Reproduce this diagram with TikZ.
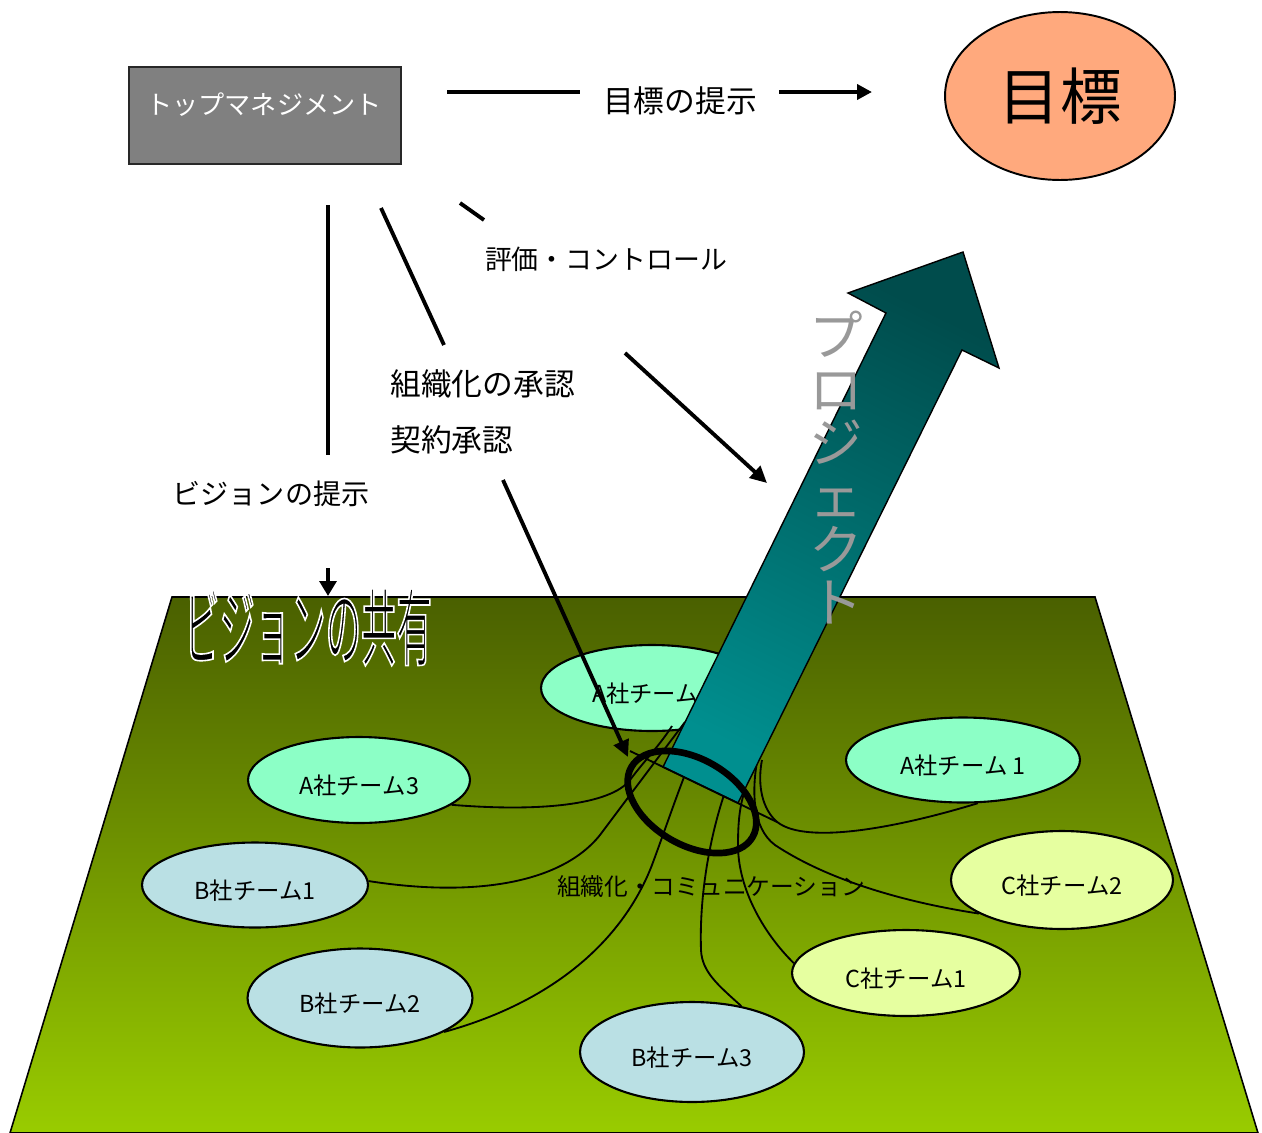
\documentclass[tikz,border=0pt]{standalone}
\usepackage{fontspec}
\setmainfont{Noto Sans CJK JP}
\newfontfamily\wordart{Noto Sans CJK JP}[FakeStretch=0.42]
\usetikzlibrary{shapes.geometric,arrows.meta,calc}
\definecolor{boxgray}{RGB}{128,128,128}
\definecolor{boxedge}{RGB}{40,40,40}
\definecolor{goalfill}{RGB}{255,169,125}
\definecolor{fieldtop}{RGB}{74,96,0}
\definecolor{fieldbot}{RGB}{153,204,0}
\definecolor{tealL}{RGB}{0,143,143}
\definecolor{tealD}{RGB}{0,76,76}
\definecolor{mintA}{RGB}{140,255,198}
\definecolor{blueB}{RGB}{186,224,228}
\definecolor{yellC}{RGB}{230,255,160}
\definecolor{projgray}{RGB}{153,153,153}
\begin{document}
\begin{tikzpicture}[x=0.02cm,y=-0.02cm,
  conn/.style={line width=2.2pt},
  arr/.style={conn,-{Triangle[length=9.5pt,width=9pt]}},
  tie/.style={line width=1.05pt},
  team/.style={ellipse,draw,line width=1.2pt,inner sep=0pt,text height=16.5pt,text depth=0pt,
    font=\fontsize{13.3}{14}\selectfont},
  lbl/.style={inner sep=0pt,font=\fontsize{17.5}{19}\selectfont}]
\useasboundingbox (0,0) rectangle (1262,1133);

% field
\coordinate (f1) at (172,597);
\coordinate (f2) at (1095,597);
\coordinate (f3) at (1258,1133);
\coordinate (f4) at (10,1133);
\shade[top color=fieldtop,bottom color=fieldbot] (f1)--(f2)--(f3)--(f4)--cycle;
\draw[line width=0.9pt] (f1)--(f2)--(f3)--(f4)--cycle;

% word art
\node[inner sep=0pt,font=\wordart\fontsize{48}{48}\selectfont] (share) at (308,627)
  {\special{pdf:literal direct q 1 1 1 RG 2 Tr 0.9 w}ビジョンの共有\special{pdf:literal direct Q}};

% team nodes
\node[team,fill=mintA,minimum width=4.44cm,minimum height=1.72cm] (a2) at (652,688) {A社チーム\phantom{2}};
\node[team,fill=mintA,minimum width=4.44cm,minimum height=1.72cm] (a3) at (359,780) {A社チーム3};
\node[team,fill=mintA,minimum width=4.68cm,minimum height=1.70cm] (a1) at (963,760) {A社チーム 1};
\node[team,fill=blueB,minimum width=4.52cm,minimum height=1.70cm] (b1) at (255,885) {B社チーム1};
\node[team,fill=blueB,minimum width=4.50cm,minimum height=1.98cm] (b2) at (360,998) {B社チーム2};
\node[team,fill=blueB,minimum width=4.48cm,minimum height=2.00cm] (b3) at (692,1052) {B社チーム3};
\node[team,fill=yellC,minimum width=4.56cm,minimum height=1.72cm] (c1) at (906,973) {C社チーム1};
\node[team,fill=yellC,minimum width=4.44cm,minimum height=1.96cm] (c2) at (1062,880) {C社チーム2};

% hub ends (under the arrow base)
\coordinate (hA3) at (672,726);
\coordinate (hB1) at (685,722);
\coordinate (hB2) at (686,772);
\coordinate (hB3) at (725,792);
\coordinate (hC1) at (745,790);
\coordinate (hC2) at (757,762);
\coordinate (hA1) at (762,760);

% ties
\draw[tie] (a3.-15) .. controls (540,812) and (610,805) .. (630,780) .. controls (645,760) and (660,745) .. (hA3);
\draw[tie] (b1.2) .. controls (470,897) and (560,885) .. (600,835) .. controls (630,795) and (660,755) .. (hB1);
\draw[tie] (b2.-22) .. controls (560,1000) and (625,935) .. (652,865) .. controls (665,830) and (675,800) .. (hB2);
\draw[tie] (b3.43) .. controls (718,985) and (702,972) .. (701,950) .. controls (699,890) and (712,830) .. (hB3);
\draw[tie] (c1.175) .. controls (765,935) and (738,890) .. (738,845) .. controls (738,820) and (740,805) .. (hC1);
\draw[tie] (c2.202) .. controls (890,900) and (820,875) .. (775,845) .. controls (752,828) and (752,790) .. (hC2);
\draw[tie] (a1.-71) .. controls (890,830) and (800,845) .. (775,820) .. controls (760,805) and (758,780) .. (hA1);

\node[inner sep=0pt,font=\fontsize{13.5}{14}\selectfont] (comm) at (711,887) {組織化・コミュニケーション};

% project arrow
\coordinate (BL) at (663,767);
\coordinate (LS) at (886,313);
\coordinate (LB) at (848,293);
\coordinate (T)  at (963,252);
\coordinate (RB) at (999,368);
\coordinate (RS) at (962,350);
\coordinate (BR) at (738,803);
\shadedraw[draw=black,line width=0.8pt,top color=tealD,bottom color=tealL,shading angle=-26]
  (BL)--(LS)--(LB)--(T)--(RB)--(RS)--(BR)--cycle;
\coordinate (cutL) at (630,751);
\coordinate (cutR) at (777,822);
\draw[tie] (cutL)--(cutR);

% ring
\draw[line width=3.8pt,rotate around={-30:(692,802)}] (692,802) ellipse [x radius=70,y radius=43];

\node[inner sep=0pt,align=center,text=projgray,font=\fontsize{30.5}{30.4}\selectfont] (proj) at (836,468)
  {プ\\ロ\\ジ\\ェ\\ク\\ト};

% top management and goal
\node[draw=boxedge,line width=1.2pt,fill=boxgray,minimum width=5.44cm,minimum height=1.94cm,inner sep=0pt] (top) at (265,115.5) {};
\node[inner sep=0pt,text=white,font=\fontsize{14.9}{16}\selectfont] (toptext) at (264,105) {トップマネジメント};
\node[ellipse,draw,line width=1.1pt,fill=goalfill,minimum width=4.6cm,minimum height=3.36cm,inner sep=0pt,
  font=\fontsize{35}{36}\selectfont] (goal) at (1060,96) {目標};

% labels
\node[lbl] (goallbl) at (680,101) {目標の提示};
\node[lbl,font=\fontsize{15.3}{17}\selectfont] (evallbl) at (606,259) {評価・コントロール};
\node[lbl,anchor=west] (orglbl) at (390,384) {組織化の承認};
\node[lbl,anchor=west] (contlbl) at (390,440) {契約承認};
\node[lbl,font=\fontsize{16}{18}\selectfont] (vislbl) at (271,494) {ビジョンの提示};

% connectors
\coordinate (g1) at (447,92); \coordinate (g2) at (580,92);
\coordinate (g3) at (779,92); \coordinate (g4) at (872,92);
\draw[conn] (g1)--(g2);
\draw[conn,-{Triangle[length=8.5pt,width=8.5pt]}] (g3)--(g4);
\coordinate (v1) at (328,205); \coordinate (v2) at (328,455);
\coordinate (v3) at (328,568); \coordinate (v4) at (328,596);
\draw[conn] (v1)--(v2);
\draw[conn,-{Triangle[length=8.5pt,width=9.5pt]}] (v3)--(v4);
\coordinate (o1) at (381,208); \coordinate (o2) at (444,345);
\coordinate (o3) at (503,480); \coordinate (o4) at (628,757);
\draw[conn] (o1)--(o2);
\draw[arr] (o3)--(o4);
\coordinate (e1) at (460,203); \coordinate (e2) at (484,220);
\coordinate (e3) at (625,353); \coordinate (e4) at (767,483);
\draw[conn] (e1)--(e2);
\draw[arr] (e3)--(e4);
\end{tikzpicture}
\end{document}
